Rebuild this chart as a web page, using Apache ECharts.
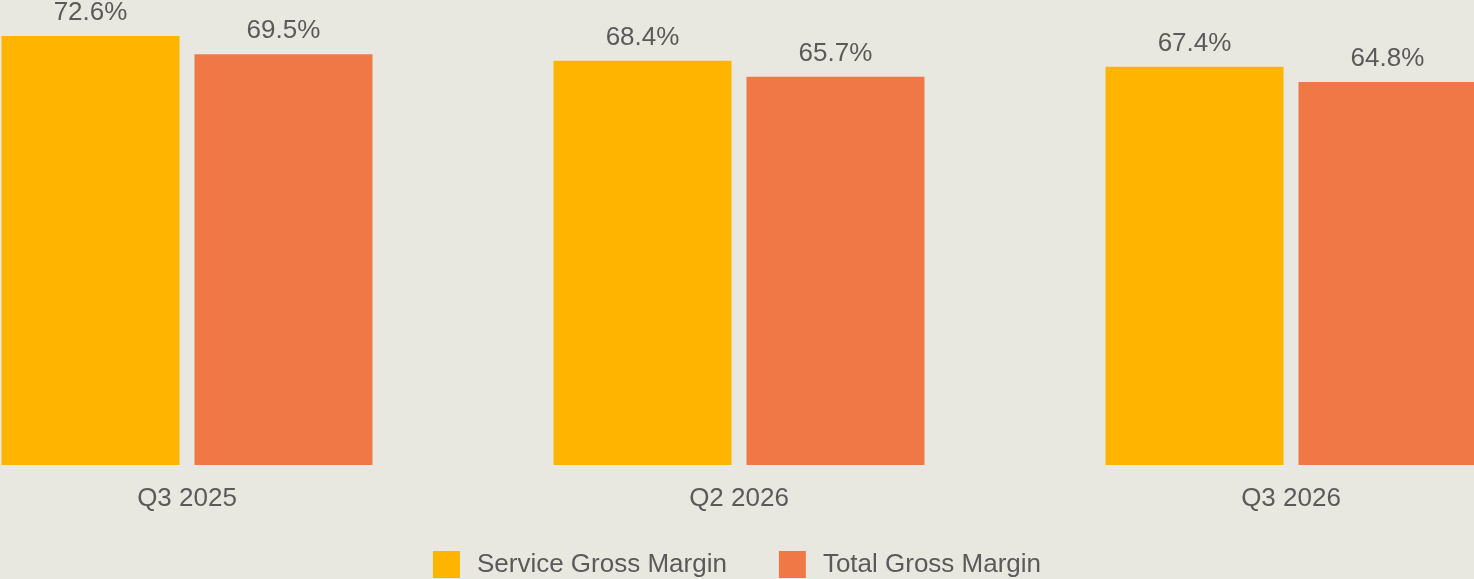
<!DOCTYPE html>
<html>
<head>
<meta charset="utf-8">
<script src="https://cdn.jsdelivr.net/npm/echarts@6/dist/echarts.min.js"></script>
<style>
  html, body { margin: 0; padding: 0; background: #E9E8E0; }
  #chart { width: 1474px; height: 579px; }
</style>
</head>
<body>
<div id="chart"></div>
<script>
const categories = ['Q3 2025', 'Q2 2026', 'Q3 2026']
const serviceMargin = [72.6, 68.4, 67.4]
const totalMargin = [69.5, 65.7, 64.8]

const font = '"Liberation Sans", Arial, sans-serif'
const textColor = '#5a5a5a'

const chart = echarts.init(document.getElementById('chart'))

const labelStyle = {
  show: true,
  position: 'top',
  distance: 10,
  color: textColor,
  fontFamily: font,
  fontSize: 26,
  formatter: p => p.value.toFixed(1) + '%'
}

chart.setOption({
  backgroundColor: '#E9E8E0',
  animation: false,
  // category points sit on the grid edges, bars spill past them
  grid: {
    left: 187,
    right: 183,
    top: 36,
    bottom: 114,
    containLabel: false
  },
  legend: {
    top: 546,
    left: 'center',
    itemWidth: 27,
    itemHeight: 27,
    itemGap: 52,
    icon: 'rect',
    textStyle: {
      color: textColor,
      fontFamily: font,
      fontSize: 26,
      padding: [0, 0, 0, 12]
    }
  },
  xAxis: {
    type: 'category',
    data: categories,
    boundaryGap: false,
    axisLine: { show: false },
    axisTick: { show: false },
    axisLabel: {
      color: textColor,
      fontFamily: font,
      fontSize: 26,
      margin: 21
    }
  },
  yAxis: {
    type: 'value',
    min: 0,
    max: v => v.max,
    show: false,
    splitLine: { show: false }
  },
  series: [
    {
      name: 'Service Gross Margin',
      type: 'bar',
      data: serviceMargin,
      barWidth: 178,
      barGap: '8.4%',
      clip: false,
      itemStyle: { color: '#FFB400' },
      label: labelStyle
    },
    {
      name: 'Total Gross Margin',
      type: 'bar',
      data: totalMargin,
      barWidth: 178,
      clip: false,
      itemStyle: { color: '#F07846' },
      label: labelStyle
    }
  ]
})
</script>
</body>
</html>
